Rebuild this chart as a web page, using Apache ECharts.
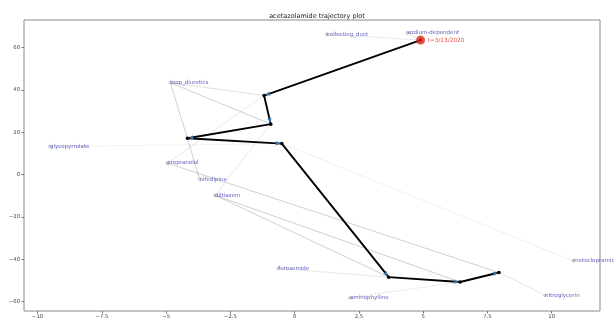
<!DOCTYPE html>
<html>
<head>
<meta charset="utf-8">
<script src="https://cdn.jsdelivr.net/npm/echarts@6/dist/echarts.min.js"></script>
<style>html,body{margin:0;padding:0;background:#fff}#c{width:614px;height:319px}</style>
</head>
<body>
<div id="c"></div>
<script>
// ---- data ----
const chartTitle = 'acetazolamide trajectory plot';
const trajX = [4.90, -1.19, -0.93, -4.17, -0.50, 3.66, 6.44, 7.95];
const trajY = [63.5, 37.3, 23.8, 17.1, 14.6, -48.5, -50.8, -46.3];
const startLabel = 't=3/13/2020';
const drugNames = ['collecting_duct', 'sodium-dependent', 'loop_diuretics', 'glycopyrrolate', 'propranolol',
  'nifedipine', 'diltiazem', 'furosemide', 'aminophylline', 'nitroglycerin', 'metoclopramide'];
const drugX = [1.25, 4.38, -4.84, -9.52, -4.96, -3.70, -3.10, -0.64, 2.15, 9.74, 10.84];
const drugY = [66.3, 66.9, 43.4, 13.2, 5.4, -2.3, -9.8, -44.4, -58.2, -57.0, -40.8];
// links: drug index -> trajectory step, with strength
const linkDrug = [0, 1, 2, 2, 2, 5, 4, 6, 3, 10, 4, 9, 6, 8, 6, 7];
const linkStep = [0, 0, 1, 2, 3, 3, 1, 2, 4, 4, 7, 7, 6, 6, 5, 5];
const linkAlpha = [0.1, 0.14, 0.16, 0.24, 0.24, 0.24, 0.12, 0.12, 0.07, 0.09, 0.24, 0.12, 0.24, 0.1, 0.24, 0.12];
const xTicks = [-10, -7.5, -5, -2.5, 0, 2.5, 5, 7.5, 10];
const yTicks = [-60, -40, -20, 0, 20, 40, 60];

// ---- build ----
const FONT = 'DejaVu Sans';
const trajData = trajX.map((x, i) => [x, trajY[i]]);
const drugData = drugNames.map((n, i) => ({ name: n, value: [drugX[i], drugY[i]] }));
const linkData = linkDrug.map((d, k) => ({
  coords: [[drugX[d], drugY[d]], [trajX[linkStep[k]], trajY[linkStep[k]]]],
  lineStyle: { opacity: linkAlpha[k] }
}));
const arrowData = [];
for (let i = 1; i < trajX.length; i++) arrowData.push([trajX[i - 1], trajY[i - 1], trajX[i], trajY[i]]);
const minus = v => (v < 0 ? '\u2212' : '') + Math.abs(v);

const chart = echarts.init(document.getElementById('c'), null, { renderer: 'canvas' });
chart.setOption({
  animation: false,
  backgroundColor: '#fff',
  title: {
    text: chartTitle, left: 312, top: 8, textAlign: 'center',
    textStyle: { fontFamily: FONT, fontSize: 6.5, fontWeight: 'normal', color: '#222' }
  },
  grid: { left: 24, right: 14, top: 20, bottom: 8, show: true, borderColor: '#8a8a8a', borderWidth: 1, backgroundColor: 'transparent' },
  xAxis: {
    type: 'value', min: -10.53, max: 11.88,
    splitLine: { show: false },
    axisLine: { show: false, onZero: false },
    axisTick: { show: true, length: 2.5, lineStyle: { color: '#777' }, customValues: xTicks },
    axisLabel: { fontFamily: FONT, fontSize: 5.3, color: '#444', margin: 3, customValues: xTicks,
      formatter: v => minus(Number(v).toFixed(1)) }
  },
  yAxis: {
    type: 'value', min: -64.5, max: 73.0,
    splitLine: { show: false },
    axisLine: { show: false, onZero: false },
    axisTick: { show: true, length: 2.5, lineStyle: { color: '#777' }, customValues: yTicks },
    axisLabel: { fontFamily: FONT, fontSize: 5.3, color: '#444', margin: 4, customValues: yTicks,
      formatter: v => minus(Math.round(v)) }
  },
  series: [
    {
      type: 'lines', coordinateSystem: 'cartesian2d', z: 1, silent: true,
      lineStyle: { color: '#000', width: 0.8 },
      data: linkData
    },
    {
      type: 'scatter', z: 2, data: drugData, symbol: 'circle', symbolSize: 4,
      itemStyle: { color: '#cfcfcf' },
      label: {
        show: true, formatter: p => p.name, position: ['50%', '50%'], align: 'left', verticalAlign: 'middle',
        offset: [1.5, -2.3], fontFamily: FONT, fontSize: 5.5, color: '#3a3aaa'
      },
      labelLayout: { hideOverlap: false }
    },
    {
      type: 'line', z: 3, data: trajData, symbol: 'circle', symbolSize: 3.5, showSymbol: true,
      lineStyle: { color: '#000', width: 1.9 }, itemStyle: { color: '#000' }
    },
    {
      type: 'custom', z: 4, data: arrowData, encode: { x: [0, 2], y: [1, 3] },
      renderItem: function (params, api) {
        const a = api.coord([api.value(0), api.value(1)]);
        const b = api.coord([api.value(2), api.value(3)]);
        const dx = b[0] - a[0], dy = b[1] - a[1];
        const L = Math.hypot(dx, dy) || 1;
        const ux = dx / L, uy = dy / L, px = -uy, py = ux;
        const tip = [b[0] - ux * 1.5, b[1] - uy * 1.5];
        const base = [tip[0] - ux * 4.5, tip[1] - uy * 4.5];
        const w = 2.2;
        return {
          type: 'polygon',
          shape: { points: [tip, [base[0] + px * w, base[1] + py * w], [base[0] - px * w, base[1] - py * w]] },
          style: { fill: '#3b74ad' }
        };
      }
    },
    {
      type: 'scatter', z: 5, data: [[trajX[0], trajY[0]]], symbol: 'circle', symbolSize: 9,
      itemStyle: { color: '#e5251d' },
      label: { show: true, formatter: startLabel, position: 'right', distance: 2.5,
        fontFamily: FONT, fontSize: 5.8, color: '#e5251d' }
    }
  ]
});
</script>
</body>
</html>
